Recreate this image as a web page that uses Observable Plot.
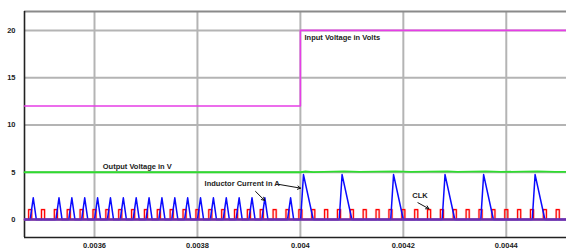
<!DOCTYPE html>
<html>
<head>
<meta charset="utf-8">
<script src="https://cdn.jsdelivr.net/npm/d3@7"></script>
<script src="https://cdn.jsdelivr.net/npm/@observablehq/plot@0.6"></script>
<style>
  html, body { margin: 0; padding: 0; background: #fff; }
  svg { display: block; }
</style>
</head>
<body>
<div id="chart"></div>
<script>
// ---- axes ----
const xDomain = [0.003464, 0.004517];
const yDomain = [-1.9, 22.0];
const xTicks = [0.0036, 0.0038, 0.004, 0.0042, 0.0044];
const xTickLabels = ["0.0036", "0.0038", "0.004", "0.0042", "0.0044"];
const yTicks = [0, 5, 10, 15, 20];

// ---- input voltage (V) ----
const inputTime = [0.003464, 0.004, 0.004, 0.004517];
const inputVolt = [12, 12, 20, 20];

// ---- output voltage (V) ----
const outputTime = [0.003464, 0.004000, 0.004010, 0.004025, 0.004085, 0.004115, 0.004185, 0.004215,
                    0.004285, 0.004305, 0.004360, 0.004390, 0.004460, 0.004495, 0.004517];
const outputVolt = [5.0, 5.0, 5.08, 5.02, 5.1, 5.03, 5.1, 5.03, 5.1, 5.03, 5.1, 5.03, 5.1, 5.03, 5.03];

// ---- inductor current peaks (A) ----
const currentPeakTime = [0.003481, 0.003531, 0.003556, 0.003581, 0.003606, 0.003631, 0.003656, 0.003681,
                         0.003706, 0.003731, 0.003756, 0.003781, 0.003806, 0.003831, 0.003856, 0.003881,
                         0.003906, 0.003931, 0.003981,
                         0.004006, 0.004081, 0.004181, 0.004281, 0.004356, 0.004456];
const currentPeakAmp = [2.3, 2.3, 2.3, 2.3, 2.3, 2.3, 2.3, 2.3,
                        2.3, 2.3, 2.3, 2.3, 2.3, 2.3, 2.3, 2.3,
                        2.3, 2.3, 2.3,
                        4.75, 4.75, 4.75, 4.75, 4.75, 4.75];
const currentRise = [0.000006, 0.0000055];   // small, large pulse rise time
const currentFall = [0.000006, 0.000019];    // small, large pulse fall time

// ---- clock pulses ----
const clkStart = [0.003472, 0.003497, 0.003522, 0.003547, 0.003572, 0.003597, 0.003622, 0.003647,
                  0.003672, 0.003697, 0.003722, 0.003747, 0.003772, 0.003797, 0.003822, 0.003847,
                  0.003872, 0.003897, 0.003922, 0.003947, 0.003972, 0.003997, 0.004022, 0.004047,
                  0.004072, 0.004097, 0.004122, 0.004147, 0.004172, 0.004197, 0.004222, 0.004247,
                  0.004272, 0.004297, 0.004322, 0.004347, 0.004372, 0.004397, 0.004422, 0.004447,
                  0.004472, 0.004497];
const clkWidth = 0.000006;
const clkHigh = 1.05;

// ---- annotations ----
const labelText = ["Input Voltage in Volts", "Output Voltage in V", "Inductor Current in A", "CLK"];
const labelX = [0.004008, 0.003616, 0.0038138, 0.0042174];
const labelY = [19.26, 5.65, 3.79, 2.55];
const arrowX1 = [0.0039581, 0.0039129, 0.0042283];
const arrowY1 = [3.715, 2.97, 1.78];
const arrowX2 = [0.0040003, 0.0039304, 0.0042496];
const arrowY2 = [3.32, 2.02, 1.14];

// ---- build tables ----
const inputData = inputTime.map((t, i) => ({t, v: inputVolt[i]}));
const outputData = outputTime.map((t, i) => ({t, v: outputVolt[i]}));

const currentData = [{t: xDomain[0], v: 0}];
currentPeakTime.forEach((t, i) => {
  const big = currentPeakAmp[i] > 3 ? 1 : 0;
  currentData.push({t: t - currentRise[big], v: 0});
  currentData.push({t, v: currentPeakAmp[i]});
  currentData.push({t: t + currentFall[big], v: 0});
});
currentData.push({t: xDomain[1], v: 0});

const clkData = [{t: xDomain[0], v: 0}];
clkStart.forEach(s => {
  clkData.push({t: s, v: 0}, {t: s, v: clkHigh}, {t: s + clkWidth, v: clkHigh}, {t: s + clkWidth, v: 0});
});
clkData.push({t: xDomain[1], v: 0});

const labels = labelText.map((text, i) => ({text, x: labelX[i], y: labelY[i]}));
const arrows = arrowX1.map((x1, i) => ({x1, y1: arrowY1[i], x2: arrowX2[i], y2: arrowY2[i]}));

const chart = Plot.plot({
  width: 566,
  height: 249,
  marginLeft: 24,
  marginRight: 0,
  marginTop: 11,
  marginBottom: 12,
  style: {
    fontFamily: "'Liberation Sans', Arial, sans-serif",
    fontSize: "7.5px",
    fontWeight: "bold",
    color: "#222",
    background: "#fff"
  },
  x: {
    domain: xDomain,
    ticks: xTicks,
    tickFormat: d => xTickLabels[xTicks.indexOf(d)],
    tickSize: 0,
    tickPadding: 5,
    label: null
  },
  y: {
    domain: yDomain,
    ticks: yTicks,
    tickSize: 0,
    tickPadding: 9,
    label: null
  },
  marks: [
    Plot.ruleX(xTicks, {stroke: "#b4b4b4", strokeWidth: 2}),
    Plot.ruleY(yTicks, {stroke: "#b4b4b4", strokeWidth: 2}),
    Plot.ruleY([yDomain[1]], {stroke: "#8a8a8a", strokeWidth: 2}),
    Plot.ruleX([xDomain[0]], {stroke: "#222", strokeWidth: 1.6}),
    Plot.ruleY([yDomain[0]], {stroke: "#222", strokeWidth: 1.6}),
    Plot.line(inputData, {x: "t", y: "v", stroke: "#e63ee6", strokeWidth: 1.6}),
    Plot.line(outputData, {x: "t", y: "v", stroke: "#2fdc2f", strokeWidth: 1.8}),
    Plot.line(clkData, {x: "t", y: "v", stroke: "#ff6b6b", strokeWidth: 2.4, strokeOpacity: 0.45}),
    Plot.line(clkData, {x: "t", y: "v", stroke: "#ff0000", strokeWidth: 1.1}),
    Plot.line(currentData, {x: "t", y: "v", stroke: "#0a0aff", strokeWidth: 1.5}),
    Plot.ruleY([0], {stroke: "#6a2fb0", strokeWidth: 2.4}),
    Plot.text(labels, {x: "x", y: "y", text: "text", textAnchor: "start", lineAnchor: "middle",
      fontSize: 7.5, fontWeight: "bold", fill: "#222"}),
    Plot.arrow(arrows, {x1: "x1", y1: "y1", x2: "x2", y2: "y2", stroke: "#111", strokeWidth: 1,
      headLength: 5})
  ]
});
document.getElementById("chart").appendChild(chart);
</script>
</body>
</html>
